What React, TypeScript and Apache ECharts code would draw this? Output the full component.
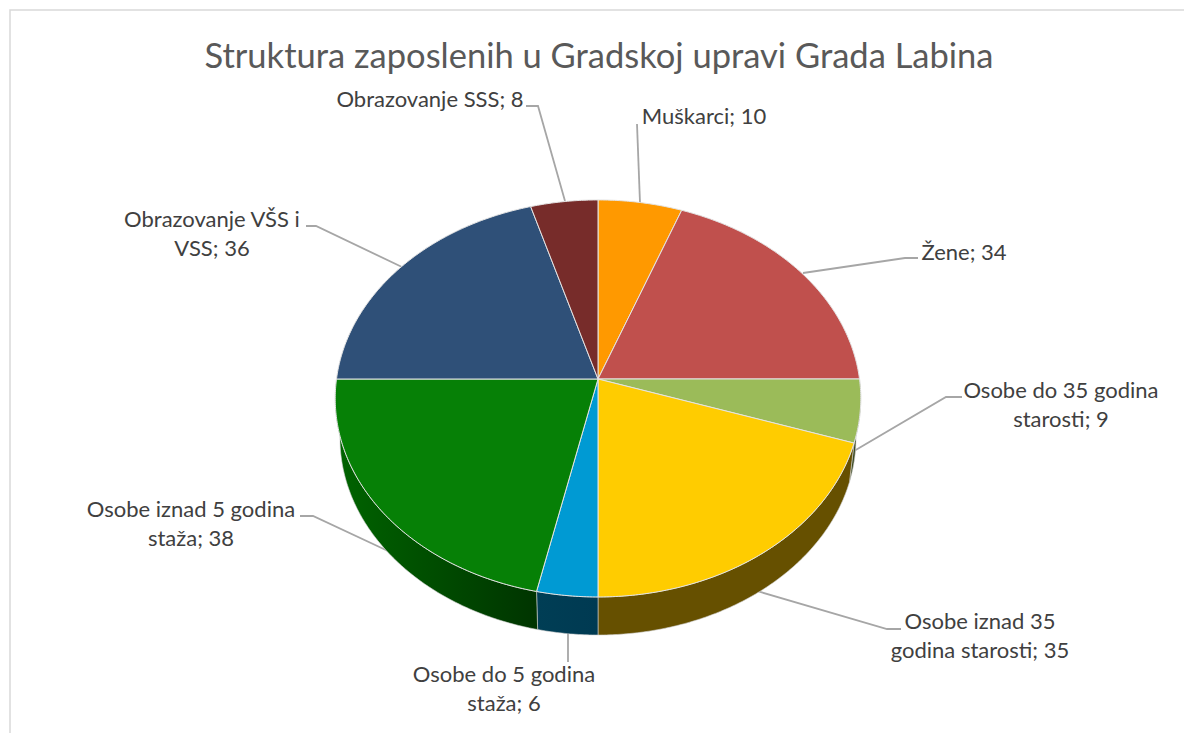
import React, { useEffect, useRef } from "react";
import * as echarts from "echarts";

const titleText = "Struktura zaposlenih u Gradskoj upravi Grada Labina";
const categories = [
  "Muškarci",
  "Žene",
  "Osobe do 35 godina starosti",
  "Osobe iznad 35 godina starosti",
  "Osobe do 5 godina staža",
  "Osobe iznad 5 godina staža",
  "Obrazovanje VŠS i VSS",
  "Obrazovanje SSS",
];
const values = [10, 34, 9, 35, 6, 38, 36, 8];
const topColors = ["#FF9900", "#C0504D", "#9BBB59", "#FFCC00", "#009AD3", "#068006", "#2F5078", "#772C2A"];
const wallLeft = ["#664000", "#4d2020", "#3e4b24", "#665000", "#003E55", "#006400", "#13203a", "#300f0f"];
const wallRight = ["#664000", "#4d2020", "#3e4b24", "#665000", "#003A52", "#003400", "#13203a", "#300f0f"];

// layout of the labels, in page pixels
const labelCentre = [[704, 115], [964, 251], [1061, 404], [980, 635], [504, 688], [191, 523], [212, 233], [430, 98]];
const labelBreak = [0, 0, 4, 3, 4, 4, 3, 0];
const leaders = [
  [[637, 124], [640, 203]],
  [[918, 258], [905, 258], [803, 273]],
  [[962, 397], [946, 397], [854, 451]],
  [[901, 629], [887, 629], [757, 591]],
  [[568, 662], [568, 633]],
  [[300, 516], [313, 516], [388, 551]],
  [[306, 226], [316, 226], [402, 267]],
  [[526, 106], [538, 106], [565, 201]],
];

const CX = 598, CY = 379, RX = 261.5, AY = 196.6, K = 0.098;
const BOTTOM_RX = 256.8, BOTTOM_AY = 195.3, BOTTOM_DY = 39.5;
const total = values.reduce((a, b) => a + b, 0);

const startOf = (i: number) => values.slice(0, i).reduce((a, b) => a + b, 0);
const project = (angle: number, rx: number, ay: number, dy: number): number[] => {
  const d = 1 + K * Math.cos(angle);
  return [CX + (rx * Math.sin(angle)) / d, CY + dy - (ay * Math.cos(angle)) / d];
};
const arc = (a0: number, a1: number, rx: number, ay: number, dy: number) => {
  const n = Math.max(2, Math.ceil(Math.abs(a1 - a0) / 0.01));
  const out: number[][] = [];
  for (let j = 0; j <= n; j++) out.push(project(a0 + ((a1 - a0) * j) / n, rx, ay, dy));
  return out;
};
const range = (i: number, v: number) => {
  const a0 = (startOf(i) / total) * 2 * Math.PI;
  return [a0, a0 + (v / total) * 2 * Math.PI];
};
const labelOf = (i: number) => {
  const words = categories[i].split(" ");
  const n = labelBreak[i];
  const text = `${categories[i]}; ${values[i]}`;
  if (!n) return text;
  return `${words.slice(0, n).join(" ")}\n${words.slice(n).join(" ")}; ${values[i]}`;
};

const seriesData = values.map((v, i) => ({ value: v, name: categories[i] }));

export default function App() {
  const ref = useRef<HTMLDivElement>(null);
  useEffect(() => {
    document.body.style.margin = "0";
    const chart = echarts.init(ref.current!, null, { renderer: "svg" });
    chart.setOption({
      animation: false,
      backgroundColor: "#ffffff",
      title: {
        text: titleText,
        left: 594,
        top: 32,
        textAlign: "center",
        textStyle: { fontFamily: "Lato", fontSize: 34.5, fontWeight: "normal", color: "#595959" },
      },
      graphic: [
        {
          type: "rect",
          z: -1,
          shape: { x: 10, y: 10, width: 1300, height: 900 },
          style: { fill: "#ffffff", stroke: "#d9d9d9", lineWidth: 1.5 },
        },
      ],
      series: [
        {
          type: "custom",
          coordinateSystem: "none",
          z: 2,
          data: seriesData,
          renderItem: (p: any, api: any) => {
            const [a0, a1] = range(p.dataIndex, api.value(0));
            const lo = Math.max(a0, Math.PI / 2), hi = Math.min(a1, (3 * Math.PI) / 2);
            if (hi <= lo) return { type: "group", children: [] };
            const top = arc(lo, hi, RX, AY, 0);
            const bottom = arc(hi, lo, BOTTOM_RX, BOTTOM_AY, BOTTOM_DY);
            return {
              type: "polygon",
              shape: { points: [...top, ...bottom] },
              style: {
                fill: new echarts.graphic.LinearGradient(0, 0, 1, 0, [
                  { offset: 0, color: wallLeft[p.dataIndex] },
                  { offset: 1, color: wallRight[p.dataIndex] },
                ]),
                stroke: "#d0d0d0",
                lineWidth: 0.6,
              },
            };
          },
        },
        {
          type: "custom",
          coordinateSystem: "none",
          z: 3,
          data: seriesData,
          renderItem: (p: any, api: any) => {
            const [a0, a1] = range(p.dataIndex, api.value(0));
            return {
              type: "polygon",
              shape: { points: [[CX, CY], ...arc(a0, a1, RX, AY, 0)] },
              style: { fill: topColors[p.dataIndex], stroke: "#e4e4e4", lineWidth: 1, lineJoin: "round" },
            };
          },
        },
        {
          type: "custom",
          coordinateSystem: "none",
          z: 1,
          data: seriesData,
          renderItem: (p: any) => {
            const i = p.dataIndex;
            return {
              type: "group",
              children: [
                {
                  type: "polyline",
                  shape: { points: leaders[i] },
                  style: { fill: "none", stroke: "#a6a6a6", lineWidth: 1.8 },
                },
                {
                  type: "text",
                  style: {
                    text: labelOf(i),
                    x: labelCentre[i][0],
                    y: labelCentre[i][1],
                    align: "center",
                    verticalAlign: "middle",
                    fontFamily: "Lato",
                    fontSize: 22,
                    lineHeight: 29.5,
                    fill: "#404040",
                  },
                },
              ],
            };
          },
        },
      ],
    });
    return () => chart.dispose();
  }, []);
  return <div ref={ref} style={{ width: 1184, height: 733 }} />;
}
